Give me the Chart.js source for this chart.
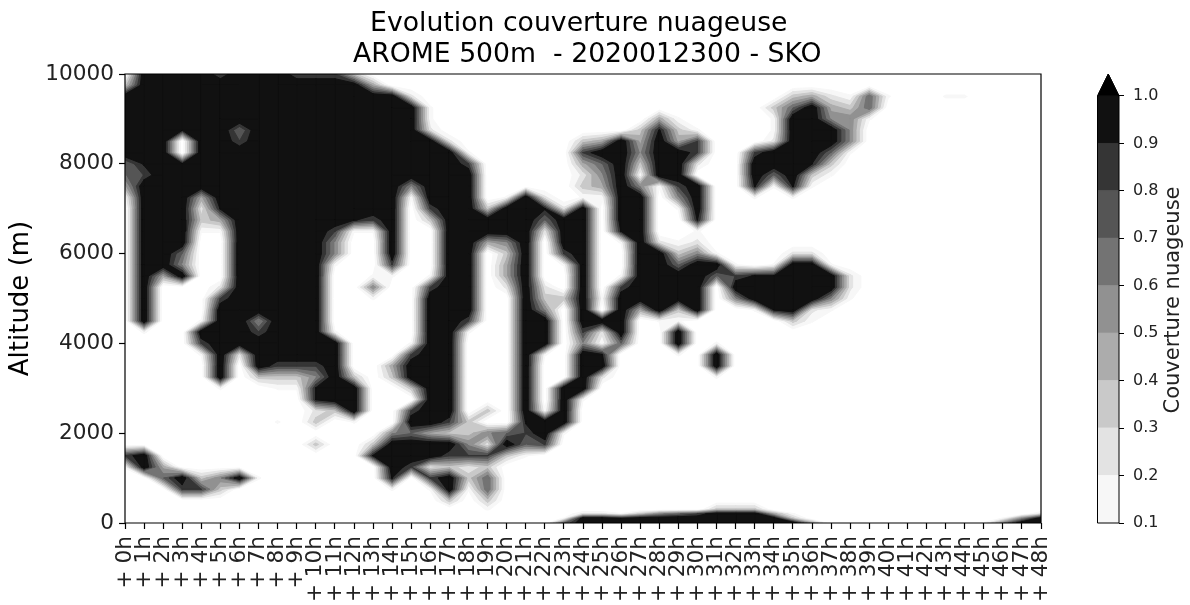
<!DOCTYPE html>
<html><head><meta charset="utf-8">
<script src="https://cdn.jsdelivr.net/npm/chart.js@4"></script>
<style>
html,body{margin:0;padding:0;background:#fff;width:1190px;height:605px;overflow:hidden}
canvas{position:absolute;top:0;display:block}
</style></head><body>
<canvas id="main" width="1080" height="605" style="left:0"></canvas>
<canvas id="bar" width="80" height="605" style="left:1080px"></canvas>
<canvas id="lab" width="50" height="605" style="left:1140px"></canvas>
<script>
const titleLines = ["Evolution couverture nuageuse ", " AROME 500m  - 2020012300 - SKO"];
const hourLabels = ["+ 0h","+ 1h","+ 2h","+ 3h","+ 4h","+ 5h","+ 6h","+ 7h","+ 8h","+ 9h","+ 10h","+ 11h","+ 12h","+ 13h","+ 14h","+ 15h","+ 16h","+ 17h","+ 18h","+ 19h","+ 20h","+ 21h","+ 22h","+ 23h","+ 24h","+ 25h","+ 26h","+ 27h","+ 28h","+ 29h","+ 30h","+ 31h","+ 32h","+ 33h","+ 34h","+ 35h","+ 36h","+ 37h","+ 38h","+ 39h","+ 40h","+ 41h","+ 42h","+ 43h","+ 44h","+ 45h","+ 46h","+ 47h","+ 48h"];
const hours = [0,1,2,3,4,5,6,7,8,9,10,11,12,13,14,15,16,17,18,19,20,21,22,23,24,25,26,27,28,29,30,31,32,33,34,35,36,37,38,39,40,41,42,43,44,45,46,47,48];
const altitudes = [10000,9750,9500,9250,9000,8750,8500,8250,8000,7750,7500,7250,7000,6750,6500,6250,6000,5750,5500,5250,5000,4750,4500,4250,4000,3750,3500,3250,3000,2750,2500,2250,2000,1750,1500,1250,1000,750,500,300,200,100,0];
// cloud cover per altitude (top to bottom), one digit per hour, in groups of ten hours
const coverRows = [
"0999979997 7730000000 0000000000 0000000000 000000000",
"3999999999 9994000000 0000000000 0000000000 000000000",
"9999999999 9999920000 0000000000 0000034216 100110000",
"9999999999 9999991000 0000000000 0000369436 000000000",
"9999999999 9999991000 0000000041 0000199551 000000000",
"9998996999 9999992000 0000000383 1000199950 000000000",
"9990997999 9999999200 0000349494 7000299950 000000000",
"9990999999 9999999910 0000799599 7007999610 000000000",
"6898999999 9999999970 0000469399 2009998300 000000000",
"6799999999 9999999990 0000259199 0009693100 000000000",
"4999999999 9999959990 0000349517 9008181000 000000000",
"1999499999 9999919990 1920119905 9001010000 000000000",
"0999289999 9999907993 9982909901 9000000000 000000000",
"0999349999 9987903999 9969909900 8000000000 000000000",
"0999119999 9711900999 9929908900 1000000000 000000000",
"0999009999 9500900994 5909901921 2000000000 000000000",
"0996009999 9500900990 3907900993 5100022000 000000000",
"0995009999 9100700990 4901900996 9910199100 000000000",
"0949009999 9001101990 4900901999 9678899920 000000000",
"0900029999 9005007990 2920907999 9099999920 000000000",
"0900079999 9001009990 0933919999 9059999510 000000000",
"0900099999 9000009990 0950909493 9001892100 000000000",
"0900199599 9000009970 0990999011 0000031000 000000000",
"0100999799 9100009910 0990729009 0000000000 000000000",
"0000799999 9900019900 0990516009 0100000000 000000000",
"0000192999 9900079900 0910980001 0900000000 000000000",
"0000090977 7900499900 0900990000 0900000000 000000000",
"0000090333 5930399900 0900920000 0100000000 000000000",
"0000010011 8990039900 0909900000 0000000000 000000000",
"0000000000 8990009900 0909100000 0000000000 000000000",
"0000000000 2390079903 0919000000 0000000000 000000000",
"0000000010 3010099730 0899000000 0000000000 000000000",
"0000000000 0000564335 6791000000 0000000000 000000000",
"0000000000 3003999952 9670000000 0000000000 000000000",
"7900000000 0008999777 3100000000 0000000000 000000000",
"1940000000 0000972323 0000000000 0000000000 000000000",
"0069359100 0000807936 0000000000 0000000000 000000000",
"0007730000 0000101916 0000000000 0000000000 000000000",
"0000000000 0000000303 0000000000 0000000000 000000000",
"0000000000 0000000001 0000000000 0333000000 000000000",
"0000000000 0000000000 0000221356 7999410000 000000002",
"0000000000 0000000000 0001998999 9999930000 000000159",
"0000000000 0000000000 0006999999 9999994000 000001599"
];
const levels = [0.1,0.2,0.3,0.4,0.5,0.6,0.7,0.8,0.9,1.0];
const bandColours = ["#f7f7f7","#e3e3e3","#c9c9c9","#acacac","#919191","#737373","#555555","#353535","#111111"];
const colourbarTicks = [0.1,0.2,0.3,0.4,0.5,0.6,0.7,0.8,0.9,1.0];
const FONT = "'DejaVu Sans'";

const cover = coverRows.map(r => r.replace(/ /g,'').split('').map(d => (+d)/8.7));

function bandPolygons(t){
  const pts = [];
  const gap = {x:null,y:null};
  for(let c=0;c<hours.length-1;c++){
    const x0=hours[c], x1=hours[c+1];
    let run=-1;
    for(let r=0;r<=altitudes.length-1;r++){
      const full = r<altitudes.length-1 && cover[r][c]>=t && cover[r][c+1]>=t && cover[r+1][c]>=t && cover[r+1][c+1]>=t;
      if(full){ if(run<0) run=r; continue; }
      if(run>=0){
        const yT=altitudes[run], yB=altitudes[r];
        pts.push({x:x0,y:yB},{x:x1,y:yB},{x:x1,y:yT},{x:x0,y:yT},{x:x0,y:yB},gap);
        run=-1;
      }
      if(r===altitudes.length-1) break;
      const q=[
        {x:x0,y:altitudes[r+1],v:cover[r+1][c]},
        {x:x1,y:altitudes[r+1],v:cover[r+1][c+1]},
        {x:x1,y:altitudes[r],v:cover[r][c+1]},
        {x:x0,y:altitudes[r],v:cover[r][c]}];
      const out=[];
      for(let k=0;k<4;k++){
        const a=q[k], b=q[(k+1)%4];
        if(a.v>=t) out.push({x:a.x,y:a.y});
        if((a.v>=t)!==(b.v>=t)){
          const f=(t-a.v)/(b.v-a.v);
          out.push({x:a.x+f*(b.x-a.x),y:a.y+f*(b.y-a.y)});
        }
      }
      if(out.length>2){ out.push({x:out[0].x,y:out[0].y}); pts.push(...out,gap); }
    }
  }
  return pts;
}
const common = {responsive:false,animation:false,events:[],plugins:{legend:{display:false},tooltip:{enabled:false}}};
const shape = (data,colour,order) => ({data,showLine:true,fill:'shape',tension:0,spanGaps:false,pointRadius:0,
  borderWidth:1,borderColor:colour,backgroundColor:colour,order});

const datasets = bandColours.map((col,i)=>shape(bandPolygons(levels[i]),col,100-i));
datasets.push({data:[{x:hours[0],y:0},{x:hours[48],y:0},{x:hours[48],y:10000},{x:hours[0],y:10000},{x:hours[0],y:0}],
  showLine:true,fill:false,pointRadius:0,borderColor:'#000',borderWidth:1.2,clip:false,order:0});

new Chart(document.getElementById('main'),{type:'scatter',data:{datasets},options:{...common,
  layout:{padding:{right:39}},
  plugins:{...common.plugins,
    title:{display:true,text:titleLines,fullSize:false,color:'#000',font:{family:FONT,size:26.7,weight:'normal',lineHeight:'31px'},padding:{top:9,bottom:3}}},
  scales:{
    x:{type:'linear',min:0,max:48,
      border:{display:false},
      grid:{drawOnChartArea:false,drawTicks:true,tickLength:6,tickColor:'#000',tickWidth:1.2},
      ticks:{stepSize:1,autoSkip:false,minRotation:90,maxRotation:90,padding:7,color:'#222',
        font:{family:FONT,size:21.6},callback:v=>hourLabels[v]},
      afterFit:s=>{s.height=82;}},
    y:{type:'linear',min:0,max:10000,
      border:{display:false},
      grid:{drawOnChartArea:false,drawTicks:true,tickLength:6,tickColor:'#000',tickWidth:1.2},
      ticks:{stepSize:2000,padding:5,color:'#222',font:{family:FONT,size:21.6}, callback:v=>String(v)},
      title:{display:true,text:'Altitude (m)',color:'#000',font:{family:FONT,size:26,lineHeight:'30px'},padding:{top:6,bottom:0}},
      afterFit:s=>{s.width=125;}}
  }}});

// colour bar
const cbMax = 1.0463;
const barSets = bandColours.map((col,i)=>shape(
  [{x:0,y:levels[i]},{x:1,y:levels[i]},{x:1,y:levels[i+1]},{x:0,y:levels[i+1]},{x:0,y:levels[i]}],col,10));
barSets.push(shape([{x:0,y:1.0},{x:1,y:1.0},{x:0.5,y:cbMax},{x:0,y:1.0}],'#000',10));
barSets.push({data:[{x:0,y:0.1},{x:1,y:0.1},{x:1,y:1.0},{x:0.5,y:cbMax},{x:0,y:1.0},{x:0,y:0.1}],
  showLine:true,fill:false,pointRadius:0,borderColor:'#000',borderWidth:1,clip:false,order:1});
new Chart(document.getElementById('bar'),{type:'scatter',data:{datasets:barSets},options:{...common,
  layout:{padding:{left:17.5,right:0,top:74,bottom:82}},
  scales:{
    x:{type:'linear',min:0,max:1,display:false},
    y:{type:'linear',position:'right',min:0.1,max:cbMax,
      border:{display:false},
      grid:{drawOnChartArea:false,drawTicks:true,tickLength:5,tickColor:'#000',tickWidth:1},
      afterBuildTicks:s=>{s.ticks=colourbarTicks.map(value=>({value}));},
      ticks:{padding:9,color:'#222',font:{family:FONT,size:16},callback:v=>Number(v).toFixed(1)},
      afterFit:s=>{s.width=41;}}
  }}});

// colour bar caption
new Chart(document.getElementById('lab'),{type:'scatter',data:{datasets:[]},options:{...common,
  layout:{padding:{top:0,bottom:5}},
  plugins:{...common.plugins,
    title:{display:true,position:'left',text:'Couverture nuageuse',color:'#222',font:{family:FONT,size:21,weight:'normal',lineHeight:'24px'},padding:{top:22,bottom:0}}},
  scales:{x:{display:false},y:{display:false}}}});
</script>
</body></html>
